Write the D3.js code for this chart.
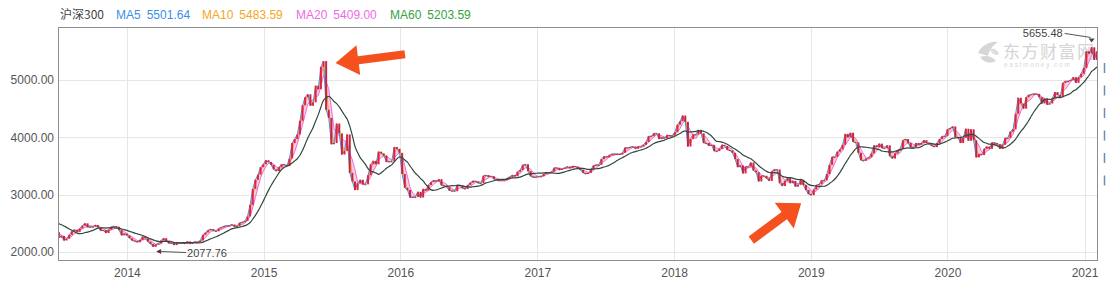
<!DOCTYPE html>
<html><head><meta charset="utf-8">
<script src="https://cdn.jsdelivr.net/npm/d3@7"></script>
<style>
html,body{margin:0;padding:0;background:#fff;}
svg{display:block;font-family:"Liberation Sans",Arial,"Noto Sans CJK SC",sans-serif;}
</style></head><body>
<svg id="chart" width="1108" height="288"></svg>
<script>
// ---------------- data ----------------
const seriesName = "沪深300";
const maNames = ["MA5", "MA10", "MA20", "MA60"];
const maLegendValues = ["5501.64", "5483.59", "5409.00", "5203.59"];
const maWeeks = [1, 2, 4, 12];          // daily MA periods expressed in weeks
const yTicks = [2000, 3000, 4000, 5000];
const xTickYears = [2014, 2015, 2016, 2017, 2018, 2019, 2020, 2021];
const firstWeek = "2013-04-05";          // Friday of the first weekly close below
const close2013 = [2480,2470,2500,2470, 2540,2600,2660,2680,2640, 2520,2430,2290,2350,
  2250,2280,2200,2230, 2300,2360,2390,2350,2410, 2460,2500,2430,2440, 2440,2470,2430,2370,
  2380,2330,2390,2440,2450, 2440,2380,2290,2320];
const close2014 = [2290,2240,2200,2190,2170, 2210,2270,2240,2180, 2140,2090,2130,2150,
  2200,2240,2190,2150, 2160,2120,2170,2150,2160, 2140,2180,2140,2165, 2180,2170,2200,2300,
  2340,2380,2400,2370,2360, 2410,2430,2450,2460, 2460,2480,2440,2450,2510,
  2520,2540,2620,2820, 3100,3260,3350,3480];
const close2015 = [3530,3600,3570,3520,3440, 3410,3480,3530,3520, 3500,3630,3900,3970,
  4050,4290,4560,4700, 4750,4550,4610,4900,4840, 5230,5330,4480,4340,
  3880,3900,4240,4070,3700, 3760,4050,3380,3230, 3080,3200,3260,3180,
  3180,3340,3530,3590,3530, 3750,3720,3680,3570, 3580,3580,3830,3800];
const close2016 = [3730,3360,3120,3080,2950, 2960,2960,3050,2950, 3100,3070,3170,3220,
  3250,3230,3270,3160,3160, 3130,3070,3070,3060, 3170,3160,3110,3100,
  3170,3210,3240,3230,3200, 3200,3330,3340,3310, 3320,3270,3250,3250,3250,
  3250,3290,3310,3340, 3320,3400,3430,3520, 3530,3410,3320,3300,3310];
const close2017 = [3320,3320,3360,3390, 3380,3400,3470,3470, 3430,3450,3470,3490,3460,
  3500,3490,3460,3430, 3380,3360,3380,3440, 3510,3520,3520,3620,3670,
  3650,3690,3710,3710, 3710,3700,3730,3820, 3820,3830,3840,3800,3840,
  3840,3870,3920,4020, 4020,4070,4070,3970, 4000,3980,4040,4030,4030];
const close2018 = [4090,4220,4280,4380, 4270,3840,3970,4050, 4050,4130,4070,3900,3900,
  3850,3870,3760,3760, 3800,3870,3850,3780, 3770,3730,3620,3480,3510,
  3370,3490,3490,3560, 3420,3390,3230,3330,3330, 3280,3240,3410,3440,
  3440,3200,3150,3240, 3290,3200,3240,3140,3170, 3260,3170,3080,3010];
const close2019 = [2990,3090,3170,3180, 3250,3250,3360,3520, 3660,3660,3750,3790,3870,
  4060,4000,4080,3920, 3910,3730,3600,3590,3630, 3650,3720,3860,3830,
  3890,3810,3810,3860, 3670,3630,3720,3780,3800, 3950,3970,3900,3820,
  3820,3900,3870,3900, 3950,3900,3880,3850,3830, 3900,3970,4020,4020];
const close2020 = [4140,4160,4190,4000,4000, 3900,3990,4150,3940, 4140,3950,3650,3710,
  3690,3800,3840,3800, 3910,3900,3880,3800,3870, 3990,3990,4100,4140,
  4410,4690,4590,4500,4700, 4740,4750,4760,4760, 4700,4590,4680,4570,
  4590,4680,4790,4740,4700, 4950,4980,4980,5000, 5050,4950,5050,5110];
const close2021 = [5210,5500,5460,5570,5350, 5500];
const maxMark = { date: "2021-01-20", value: 5655.48, label: "5655.48" };
const minMark = { date: "2014-03-20", value: 2077.76, label: "2077.76" };
const watermarkCn = "东方财富网";
const watermarkEn = "eastmoney.com";

// ---------------- build ----------------
const parse = d3.timeParse("%Y-%m-%d");
const closes = [].concat(close2013, close2014, close2015, close2016, close2017,
  close2018, close2019, close2020, close2021);
const start = parse(firstWeek);
const data = closes.map((c, i) => {
  const date = d3.timeDay.offset(start, 7 * i - 2);
  const open = i > 0 ? closes[i - 1] : c;
  return { date, open, close: c };
});
maWeeks.forEach((p, k) => {
  data.forEach((d, i) => {
    d["ma" + k] = i >= p - 1 ? d3.mean(closes.slice(i - p + 1, i + 1)) : null;
  });
});

const W = 1108, H = 288;
const L = 58, R = 1098, T = 27, B = 260;
const x = d3.scaleTime().domain([new Date(2013, 6, 1), new Date(2021, 1, 6)]).range([L, R]);
const y = d3.scaleLinear().domain([1860, 5925]).range([B, T]);

const svg = d3.select("#chart");
svg.append("rect").attr("width", W).attr("height", H).attr("fill", "#ffffff");

svg.append("defs").append("clipPath").attr("id", "clip")
  .append("rect").attr("x", L).attr("y", T).attr("width", R - L).attr("height", B - T);

// grid
const grid = svg.append("g");
grid.selectAll("line.h").data(yTicks).join("line")
  .attr("x1", L).attr("x2", R)
  .attr("y1", d => Math.round(y(d)) + 0.5).attr("y2", d => Math.round(y(d)) + 0.5)
  .attr("stroke", "#e6e6e6");
grid.selectAll("line.v").data(xTickYears).join("line")
  .attr("x1", d => Math.round(x(new Date(d, 0, 1))) + 0.5)
  .attr("x2", d => Math.round(x(new Date(d, 0, 1))) + 0.5)
  .attr("y1", T).attr("y2", B)
  .attr("stroke", "#e6e6e6");

// axes labels
const yAxis = d3.axisLeft(y).tickValues(yTicks).tickFormat(d3.format(".2f")).tickSize(0).tickPadding(4);
svg.append("g").attr("transform", `translate(${L},0)`).call(yAxis)
  .call(g => g.select(".domain").remove())
  .selectAll("text").attr("fill", "#555").attr("font-size", 12)
  .attr("font-family", '"Liberation Sans",Arial,sans-serif');

const xAxis = d3.axisBottom(x).tickValues(xTickYears.map(yv => new Date(yv, 0, 1)))
  .tickFormat(d3.timeFormat("%Y")).tickSize(0).tickPadding(8);
svg.append("g").attr("transform", `translate(0,${B})`).call(xAxis)
  .call(g => g.select(".domain").remove())
  .selectAll("text").attr("fill", "#555").attr("font-size", 12)
  .attr("font-family", '"Liberation Sans",Arial,sans-serif');

// watermark
const wm = svg.append("g");
wm.append("path").attr("d", "M978,53 C982,45 990,41 998,42 C992,46 989,51 988,56 Z").attr("fill", "#d6d6d6");
wm.append("path").attr("d", "M980,57 C986,55 992,56 996,61 C990,64 984,63 980,57 Z").attr("fill", "#d6d6d6");
wm.append("path").attr("d", "M990,49 C994,48 998,50 999,54 C996,56 992,55 990,49 Z").attr("fill", "#dedede");
wm.append("text").attr("x", 1003).attr("y", 58).attr("font-size", 17)
  .attr("font-family", '"Noto Sans CJK SC",sans-serif').attr("fill", "#d4d4d4")
  .attr("letter-spacing", 1.5).text(watermarkCn);
wm.append("text").attr("x", 1004).attr("y", 67).attr("font-size", 6.5)
  .attr("fill", "#d8d8d8").attr("letter-spacing", 1.7).text(watermarkEn);

// plot
const plot = svg.append("g").attr("clip-path", "url(#clip)");
const vis = data.filter(d => d.ma2 != null);
plot.append("path").datum(vis)
  .attr("d", d3.area().x(d => x(d.date)).y0(d => y(d.ma2)).y1(d => y(d.ma0)))
  .attr("fill", "#f6a5d6").attr("opacity", 0.55);
const maColors = ["#4a90e2", "#f5a623", "#ee6ad6", "#2f4a3a"];
[2, 1, 0].forEach(k => {
  plot.append("path").datum(data.filter(d => d["ma" + k] != null))
    .attr("d", d3.line().x(d => x(d.date)).y(d => y(d["ma" + k])))
    .attr("fill", "none").attr("stroke", maColors[k]).attr("stroke-width", 1);
});
plot.selectAll("rect.c").data(data).join("rect")
  .attr("x", d => x(d.date) - 1)
  .attr("width", 2)
  .attr("y", d => y(Math.max(d.open, d.close)))
  .attr("height", d => Math.max(1, Math.abs(y(d.open) - y(d.close))))
  .attr("fill", d => d.close >= d.open ? "#e5233d" : "#c5263f");
plot.append("path").datum(data.filter(d => d.ma3 != null))
  .attr("d", d3.line().curve(d3.curveMonotoneX).x(d => x(d.date)).y(d => y(d.ma3)))
  .attr("fill", "none").attr("stroke", maColors[3]).attr("stroke-width", 1.2);

// frame
svg.append("rect").attr("x", L + 0.5).attr("y", T + 0.5).attr("width", R - L - 1).attr("height", B - T)
  .attr("fill", "none").attr("stroke", "#8e8e8e");

// max / min markers
const mx = x(parse(maxMark.date)), my = y(maxMark.value);
svg.append("path").attr("d", `M${mx},${my} l-3,-4 h6 z`).attr("fill", "#444");
svg.append("line").attr("x1", mx - 27).attr("y1", my - 9).attr("x2", mx - 1).attr("y2", my - 5)
  .attr("stroke", "#555").attr("stroke-width", 1);
svg.append("text").attr("x", mx - 29).attr("y", my - 5.5).attr("text-anchor", "end")
  .attr("font-size", 11).attr("fill", "#444").text(maxMark.label);

const nx = x(parse(minMark.date)), ny = y(minMark.value) + 4;
svg.append("path").attr("d", `M${nx},${ny} l5,-2.5 v5 z`).attr("fill", "#6a2a3a");
svg.append("line").attr("x1", nx + 4).attr("y1", ny).attr("x2", nx + 30).attr("y2", ny + 1)
  .attr("stroke", "#555").attr("stroke-width", 1);
svg.append("text").attr("x", nx + 31).attr("y", ny + 5)
  .attr("font-size", 11).attr("fill", "#444").text(minMark.label);

// arrows pointing at the 2015 peak and the early-2019 trough
function arrow(tx, ty, angleDeg, len, headLen, headHalf, shaftHalf) {
  const pts = [[0, 0], [-headLen, -headHalf], [-headLen, -shaftHalf], [-len, -shaftHalf],
    [-len, shaftHalf], [-headLen, shaftHalf], [-headLen, headHalf]];
  svg.append("polygon").attr("points", pts.map(p => p.join(",")).join(" "))
    .attr("transform", `translate(${tx},${ty}) rotate(${angleDeg})`)
    .attr("fill", "#f4511e");
}
const peak = data.reduce((a, b) => (b.date.getFullYear() === 2015 && b.close > a.close ? b : a), data[0]);
arrow(x(peak.date) + 12, y(peak.close) + 2, 172.7, 70, 23, 15, 4);
const trough = data.filter(d => d.date > new Date(2018, 6, 1) && d.date < new Date(2019, 6, 1))
  .reduce((a, b) => (b.close < a.close ? b : a));
arrow(x(trough.date) - 10, y(trough.close) + 8, -36.5, 62, 21, 16, 4.5);

// right side dashed marker
svg.append("line").attr("x1", 1104.5).attr("x2", 1104.5).attr("y1", 63).attr("y2", 186)
  .attr("stroke", "#6d8fb3").attr("stroke-width", 1.5).attr("stroke-dasharray", "10,12.5");

// legend
const lg = svg.append("g").attr("font-size", 12);
lg.append("text").attr("x", 60).attr("y", 19).attr("fill", "#444")
  .attr("font-family", '"Noto Sans CJK SC",sans-serif').attr("font-size", 12).text(seriesName);
const legendColors = ["#3b8fe8", "#f5a623", "#f06ae6", "#33a23f"];
const legendX = [116, 202, 296, 390];
maNames.forEach((n, k) => {
  const t = lg.append("text").attr("x", legendX[k]).attr("y", 19).attr("fill", legendColors[k]);
  t.append("tspan").text(n);
  t.append("tspan").attr("dx", 6).text(maLegendValues[k]);
});
</script>
</body></html>
